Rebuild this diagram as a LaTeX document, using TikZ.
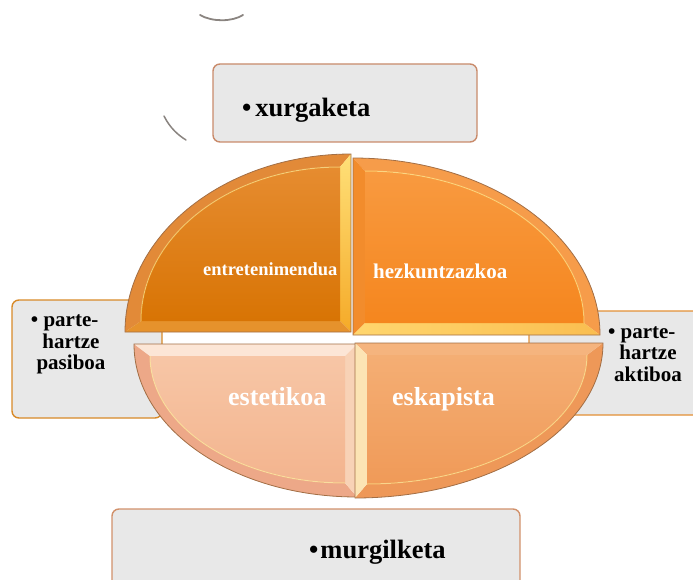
\documentclass[tikz,border=0pt]{standalone}
\usepackage{fontspec}
\setmainfont{Liberation Serif}
\definecolor{boxfill}{HTML}{E8E8E8}
\definecolor{topb}{HTML}{C98B6B}
\definecolor{leftb}{HTML}{D88A28}
\definecolor{rightb}{HTML}{E39035}
\definecolor{botb}{HTML}{D1916B}
\definecolor{qline}{HTML}{A26E45}
\definecolor{arcgray}{HTML}{8A8480}
\begin{document}
\begin{tikzpicture}[x=1pt,y=-1pt,
  box/.style={draw, rounded corners=7pt, fill=boxfill, line width=1.4pt, inner sep=0pt},
  qedge/.style={draw=qline, line width=0.8pt},
  hilite/.style={draw=yellow!40!white, line width=1pt, opacity=0.5},
  boxtext/.style={inner sep=0pt, text=black},
  qtext/.style={inner sep=0pt, text=white},
  fs/.style={font=\fontsize{#1}{#1}\selectfont\bfseries}
]
\useasboundingbox (0,0) rectangle (693,580);
\clip (0,0) rectangle (693,580);

% stray arcs
\draw[arcgray, line width=1.8pt, line cap=round] (200,15) .. controls (212,22) and (232,22) .. (243,15);
\draw[arcgray, line width=1.5pt, line cap=round] (164,116) .. controls (170,128) and (178,135) .. (186,140);

% boxes
\node[box, draw=topb, minimum width=264pt, minimum height=78pt] (btop) at (345,103) {};
\node[box, draw=leftb, minimum width=150pt, minimum height=118pt] (bleft) at (87,359) {};
\node[box, draw=rightb, minimum width=180pt, minimum height=104pt] (bright) at (619,363) {};
\node[box, draw=botb, minimum width=408pt, minimum height=91pt] (bbot) at (316,554.5) {};

% box texts
\node[boxtext, fs=26.5, anchor=base west] (ttop) at (242,117) {\textbullet\hspace{4pt}xurgaketa};
\node[boxtext, fs=26.5, anchor=base west] (tbot) at (309,558) {\textbullet\hspace{2pt}murgilketa};
\node[boxtext, align=center, font=\fontsize{21}{21.5}\selectfont\bfseries] (tleft) at (71,344.5) {\llap{\textbullet\ }parte-\\hartze\\pasiboa};
\node[boxtext, align=center, font=\fontsize{21}{21.5}\selectfont\bfseries] (tright) at (648,354) {\llap{\textbullet\ }parte-\\hartze\\aktiboa};

% ---- top-left quadrant
\fill[color={rgb,255:red,226;green,138;blue,56}] (125,332) .. controls (125,233.7) and (226.2,154) .. (351,154) -- (340,167) .. controls (230.1,167) and (141,236) .. (141,321) -- cycle;
\shade[top color={rgb,255:red,255;green,224;blue,120}, bottom color={rgb,255:red,245;green,170;blue,40}] (351,154) -- (351,332) -- (340,321) -- (340,167) -- cycle;
\fill[color={rgb,255:red,230;green,146;blue,44}] (351,332) -- (125,332) -- (141,321) -- (340,321) -- cycle;
\shade[top color={rgb,255:red,230;green,140;blue,48}, bottom color={rgb,255:red,216;green,116;blue,4}] (340,321) -- (141,321) .. controls (141,236) and (230.1,167) .. (340,167) -- cycle;
\draw[hilite] (141,321) .. controls (141,236) and (230.1,167) .. (340,167);
\draw[qedge] (351,332) -- (125,332) .. controls (125,233.7) and (226.2,154) .. (351,154) -- cycle;

% ---- top-right quadrant
\fill[color={rgb,255:red,246;green,156;blue,74}] (353,158) .. controls (489.4,158) and (600,237.2) .. (600,335) -- (584,323) .. controls (584,239) and (486,171) .. (365,171) -- cycle;
\fill[color={rgb,255:red,242;green,140;blue,44}] (353,335) -- (353,158) -- (365,171) -- (365,323) -- cycle;
\shade[left color={rgb,255:red,255;green,214;blue,110}, right color={rgb,255:red,250;green,190;blue,80}] (600,335) -- (353,335) -- (365,323) -- (584,323) -- cycle;
\shade[top color={rgb,255:red,248;green,154;blue,64}, bottom color={rgb,255:red,245;green,134;blue,30}] (365,323) -- (365,171) .. controls (486,171) and (584,239) .. (584,323) -- cycle;
\draw[hilite] (365,171) .. controls (486,171) and (584,239) .. (584,323);
\draw[qedge] (353,335) -- (353,158) .. controls (489.4,158) and (600,237.2) .. (600,335) -- cycle;

% ---- bottom-left quadrant
\fill[color={rgb,255:red,237;green,168;blue,136}] (134,344) .. controls (134,428.5) and (233.8,497) .. (357,497) -- (345,483) .. controls (237.3,483) and (150,426) .. (150,356) -- cycle;
\fill[color={rgb,255:red,252;green,230;blue,214}] (134,344) -- (357,344) -- (345,356) -- (150,356) -- cycle;
\fill[color={rgb,255:red,248;green,210;blue,182}] (357,344) -- (357,497) -- (345,483) -- (345,356) -- cycle;
\shade[top color={rgb,255:red,247;green,198;blue,166}, bottom color={rgb,255:red,243;green,180;blue,142}] (150,356) -- (345,356) -- (345,483) .. controls (237.3,483) and (150,426) .. (150,356) -- cycle;
\draw[hilite] (150,356) .. controls (150,426) and (237.3,483) .. (345,483);
\draw[qedge] (134,344) -- (357,344) -- (357,497) .. controls (233.8,497) and (134,428.5) .. (134,344) -- cycle;

% ---- bottom-right quadrant
\fill[color={rgb,255:red,238;green,152;blue,88}] (603,343) .. controls (603,428.6) and (492,498) .. (355,498) -- (367,484) .. controls (488.5,484) and (587,426.2) .. (587,355) -- cycle;
\fill[color={rgb,255:red,245;green,180;blue,126}] (355,343) -- (603,343) -- (587,355) -- (367,355) -- cycle;
\fill[color={rgb,255:red,252;green,228;blue,180}] (355,343) -- (355,498) -- (367,484) -- (367,355) -- cycle;
\shade[top color={rgb,255:red,244;green,174;blue,116}, bottom color={rgb,255:red,240;green,154;blue,88}] (367,355) -- (587,355) .. controls (587,426.2) and (488.5,484) .. (367,484) -- cycle;
\draw[hilite] (587,355) .. controls (587,426.2) and (488.5,484) .. (367,484);
\draw[qedge] (355,343) -- (603,343) .. controls (603,428.6) and (492,498) .. (355,498) -- cycle;

% quadrant labels
\node[qtext, fs=18.5, anchor=base west] (qtl) at (203,275) {entretenimendua};
\node[qtext, fs=21, anchor=base west] (qtr) at (373,278) {hezkuntzazkoa};
\node[qtext, fs=26, anchor=base west] (qbl) at (228,405) {estetikoa};
\node[qtext, fs=26, anchor=base west] (qbr) at (392,405) {eskapista};
\end{tikzpicture}
\end{document}
